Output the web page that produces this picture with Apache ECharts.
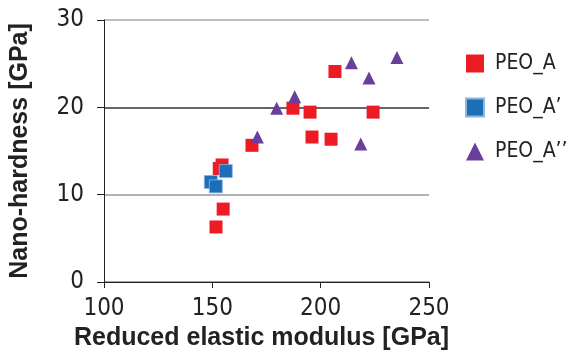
<!DOCTYPE html>
<html>
<head>
<meta charset="utf-8">
<script src="https://cdn.jsdelivr.net/npm/echarts@6/dist/echarts.min.js"></script>
<style>html,body{margin:0;padding:0;background:#fff}#c{width:571px;height:351px}</style>
</head>
<body>
<div id="c"></div>
<script>
var seriesNames = ['PEO_A', 'PEO_A\u2019', 'PEO_A\u2019\u2019'];
var peoA = [[154.5,13.4],[153.2,13.0],[155.0,8.35],[151.7,6.3],[168.3,15.65],[187.2,19.9],[195.1,19.45],[196.0,16.6],[204.8,16.35],[206.6,24.1],[224.2,19.45]];
var peoA1 = [[156.2,12.7],[149.3,11.45],[151.6,10.95]];
var peoA2 = [[170.8,16.6],[179.7,19.9],[188.0,21.2],[214.2,25.1],[218.5,15.8],[222.3,23.35],[235.2,25.7]];
var xTicks = [100, 150, 200, 250];
var yTicks = [0, 10, 20, 30];

var narrow = "'Liberation Sans Narrow','DejaVu Sans Condensed',sans-serif";
var chart = echarts.init(document.getElementById('c'));
chart.setOption({
  animation: false,
  grid: {left: 104, right: 142, top: 20, bottom: 69, containLabel: false, outerBoundsMode: 'none'},
  xAxis: {
    type: 'value', min: xTicks[0], max: xTicks[xTicks.length-1], interval: 50,
    name: 'Reduced elastic modulus [GPa]', nameLocation: 'middle', nameGap: 44,
    nameTextStyle: {fontFamily: "'Liberation Sans',Arial,sans-serif", fontWeight: 'bold', fontSize: 25, color: '#222', padding: [0,10,0,0]},
    axisLine: {lineStyle: {color: '#222', width: 1}},
    axisTick: {inside: false, length: 6, lineStyle: {color: '#222'}},
    axisLabel: {fontFamily: narrow, fontSize: 24, color: '#222', margin: 15},
    splitLine: {show: false}
  },
  yAxis: {
    type: 'value', min: yTicks[0], max: yTicks[yTicks.length-1], interval: 10,
    name: 'Nano-hardness [GPa]', nameLocation: 'middle', nameGap: 71,
    nameTextStyle: {fontFamily: "'Liberation Sans',Arial,sans-serif", fontWeight: 'bold', fontSize: 25, color: '#222'},
    axisLine: {lineStyle: {color: '#222', width: 1}},
    axisTick: {inside: false, length: 7, lineStyle: {color: '#222'}},
    axisLabel: {fontFamily: narrow, fontSize: 24, color: '#222', margin: 20},
    splitLine: {show: true, lineStyle: {color: ['#888', '#999', '#333', '#aaa'], width: 1.5}}
  },
  legend: {
    orient: 'vertical', left: 460, top: 48, itemWidth: 18, itemHeight: 18, itemGap: 23,
    textStyle: {fontFamily: narrow, fontSize: 21, color: '#222', padding: [0,0,0,6]},
    data: seriesNames
  },
  series: [
    {name: seriesNames[0], type: 'scatter', symbol: 'rect', symbolSize: 13, data: peoA, itemStyle: {color: '#ED1C24', opacity: 1}},
    {name: seriesNames[1], type: 'scatter', symbol: 'rect', symbolSize: 13, data: peoA1, itemStyle: {color: '#1B6FB8', opacity: 1, borderColor: '#8fb5dc', borderWidth: 0.8}},
    {name: seriesNames[2], type: 'scatter', symbol: 'triangle', symbolSize: 13, data: peoA2, itemStyle: {color: '#6A3E9B', opacity: 1}}
  ]
});
</script>
</body>
</html>
